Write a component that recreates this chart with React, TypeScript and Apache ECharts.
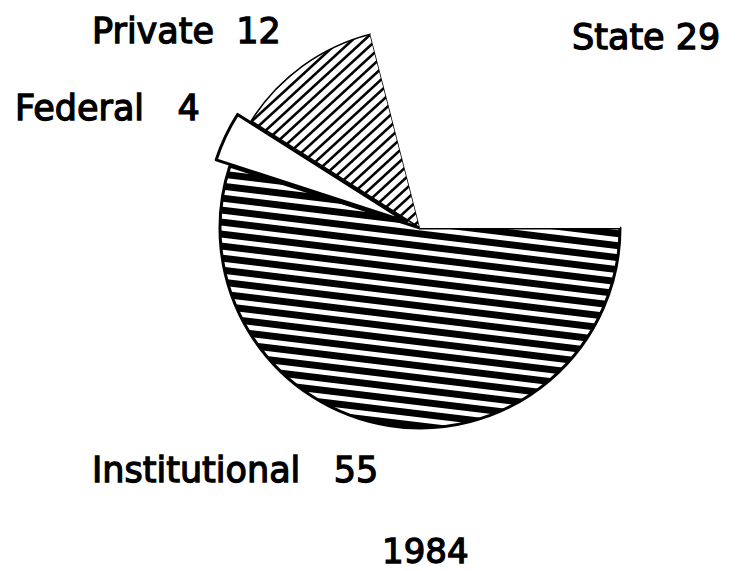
import React, { useEffect, useRef } from "react";
import * as echarts from "echarts";

// ---- data ----
const categories = ["Institutional", "Federal", "Private", "State"];
const values = [55, 4, 12, 29];
const chartTitle = "1984";

// ---- layout (not data) ----
const labelPos = [
  { x: 92, y: 470 },
  { x: 15, y: 108 },
  { x: 92, y: 31 },
  { x: 572, y: 37 },
];
const labelGap = ["   ", "   ", "  ", " "];

function stripeTile(): string {
  const W = 100, H = 12, t = 7;
  const c = document.createElement("canvas");
  c.width = W; c.height = H;
  const g = c.getContext("2d")!;
  g.fillStyle = "#fff"; g.fillRect(0, 0, W, H);
  g.fillStyle = "#000";
  for (let k = -2; k <= 1; k++) {
    const y0 = k * H;
    g.beginPath();
    g.moveTo(0, y0); g.lineTo(W, y0 + H); g.lineTo(W, y0 + H + t); g.lineTo(0, y0 + t);
    g.closePath(); g.fill();
  }
  return c.toDataURL();
}

function hatchTile(): string {
  const W = 12, H = 11;
  const c = document.createElement("canvas");
  c.width = W; c.height = H;
  const g = c.getContext("2d")!;
  g.fillStyle = "#fff"; g.fillRect(0, 0, W, H);
  g.strokeStyle = "#000"; g.lineWidth = 2.6; g.lineCap = "square";
  for (let k = -1; k <= 1; k++) {
    const dx = k * W;
    g.beginPath();
    g.moveTo(dx - W, 2 * H); g.lineTo(dx + 2 * W, -H);
    g.stroke();
  }
  return c.toDataURL();
}

export default function App() {
  const ref = useRef<HTMLDivElement>(null);
  useEffect(() => {
    if (!ref.current) return;
    const chart = echarts.init(ref.current, null, { renderer: "svg" });
    const stripes = { image: stripeTile(), repeat: "repeat", imageWidth: 100, imageHeight: 12 } as any;
    const hatch = { image: hatchTile(), repeat: "repeat", imageWidth: 12, imageHeight: 11 } as any;
    const styles = [
      { color: stripes, borderColor: "#000", borderWidth: 3 },
      { color: "#fff", borderColor: "#000", borderWidth: 3 },
      { color: hatch, borderColor: "#000", borderWidth: 1.5 },
      { color: "#fff", borderColor: "#fff", borderWidth: 0 },
    ];
    const fontFamily = "DejaVu Sans";
    const textStyle = (text: string, size: number) => ({
      text,
      fontFamily,
      fontSize: size,
      fontWeight: "normal",
      fill: "#000",
      stroke: "#000",
      lineWidth: 1.3,
      textAlign: "left",
      textVerticalAlign: "middle",
    });
    const labels = categories.map((name, i) => ({
      type: "text",
      x: labelPos[i].x,
      y: labelPos[i].y,
      style: textStyle(`${name}${labelGap[i]}${values[i]}`, 35),
    }));
    chart.setOption({
      animation: false,
      backgroundColor: "#fff",
      graphic: [
        ...labels,
        { type: "text", x: 382, y: 551, style: textStyle(chartTitle, 34) },
      ],
      series: [
        {
          type: "pie",
          center: [420, 228],
          radius: 200,
          startAngle: 0,
          clockwise: true,
          silent: true,
          selectedMode: "single",
          selectedOffset: 15,
          emphasis: { disabled: true },
          label: { show: false },
          labelLine: { show: false },
          data: categories.map((name, i) => ({
            name,
            value: values[i],
            selected: name === "Federal",
            itemStyle: styles[i],
          })),
        },
      ],
    });
    return () => chart.dispose();
  }, []);
  return (
    <div
      ref={ref}
      style={{ position: "absolute", left: 0, top: 0, width: 745, height: 571 }}
    />
  );
}
